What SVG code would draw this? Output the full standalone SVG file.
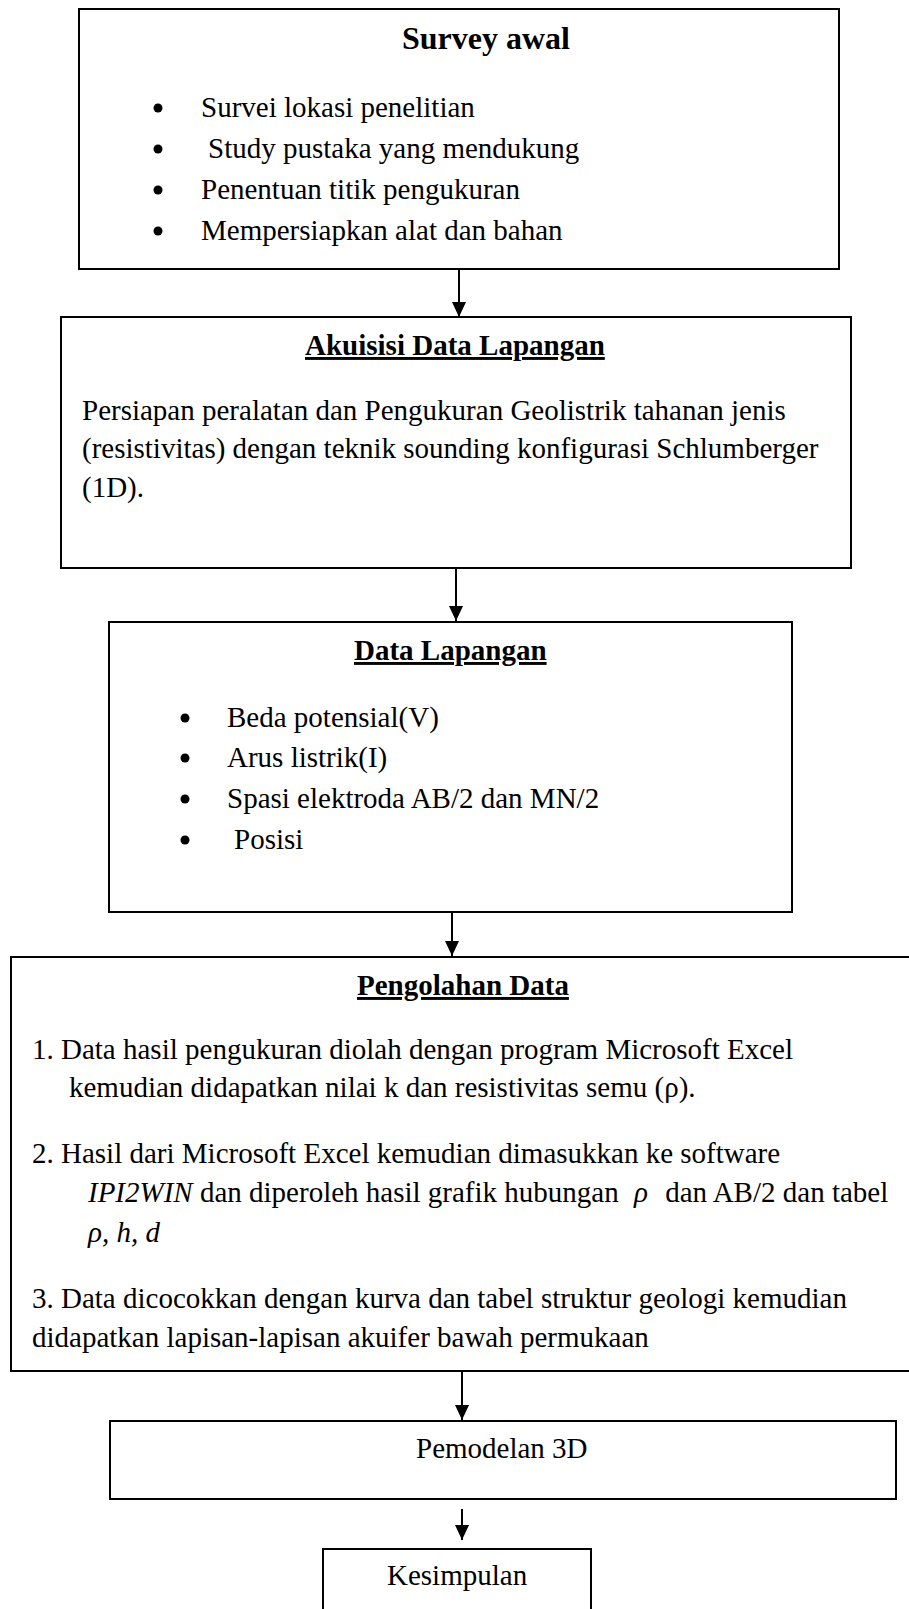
<svg xmlns="http://www.w3.org/2000/svg" width="909" height="1609" viewBox="0 0 909 1609">
<defs>
<marker id="ah" markerUnits="userSpaceOnUse" markerWidth="15" markerHeight="14" refX="15" refY="7" orient="auto">
<path d="M0,0 L15,7 L0,14 z" fill="#000"/>
</marker>
<style>
.box{fill:#fff;stroke:#000;stroke-width:2}
.t{font-family:"Liberation Serif","Times New Roman",serif;font-size:29px;fill:#000}
.b{font-weight:bold}
.big{font-size:32px}
.u{text-decoration:underline}
.i{font-style:italic}
.dot{fill:#000}
.conn{stroke:#000;stroke-width:2;fill:none;marker-end:url(#ah)}
</style>
</defs>
<rect x="0" y="0" width="909" height="1609" fill="#fff"/>

<g id="survey-awal">
<rect class="box" x="79" y="9" width="760" height="260"/>
<text class="t b big" x="402" y="49">Survey awal</text>
<circle class="dot" cx="158" cy="108" r="4.5"/>
<circle class="dot" cx="158" cy="149" r="4.5"/>
<circle class="dot" cx="158" cy="190" r="4.5"/>
<circle class="dot" cx="158" cy="231" r="4.5"/>
<text class="t" x="201" y="117">Survei lokasi penelitian</text>
<text class="t" x="208" y="158">Study pustaka yang mendukung</text>
<text class="t" x="201" y="199">Penentuan titik pengukuran</text>
<text class="t" x="201" y="240">Mempersiapkan alat dan bahan</text>
</g>

<g id="akuisisi">
<rect class="box" x="61" y="317" width="790" height="251"/>
<text class="t b u" x="305" y="355">Akuisisi Data Lapangan</text>
<text class="t" x="82" y="420">Persiapan peralatan dan Pengukuran Geolistrik tahanan jenis</text>
<text class="t" x="82" y="458">(resistivitas) dengan teknik sounding konfigurasi Schlumberger</text>
<text class="t" x="82" y="497">(1D).</text>
</g>

<g id="data-lapangan">
<rect class="box" x="109" y="622" width="683" height="290"/>
<text class="t b u" x="354" y="660">Data Lapangan</text>
<circle class="dot" cx="185" cy="718" r="4.5"/>
<circle class="dot" cx="185" cy="758" r="4.5"/>
<circle class="dot" cx="185" cy="799" r="4.5"/>
<circle class="dot" cx="185" cy="840" r="4.5"/>
<text class="t" x="227" y="727">Beda potensial(V)</text>
<text class="t" x="227" y="767">Arus listrik(I)</text>
<text class="t" x="227" y="808">Spasi elektroda AB/2 dan MN/2</text>
<text class="t" x="234" y="849">Posisi</text>
</g>

<g id="pengolahan">
<rect class="box" x="11" y="957" width="930" height="414"/>
<text class="t b u" x="357" y="995">Pengolahan Data</text>
<text class="t" x="32" y="1059">1. Data hasil pengukuran diolah dengan program Microsoft Excel</text>
<text class="t" x="69" y="1097">kemudian didapatkan nilai k dan resistivitas semu (ρ).</text>
<text class="t" x="32" y="1163">2. Hasil dari Microsoft Excel kemudian dimasukkan ke software</text>
<text class="t" x="88" y="1202"><tspan class="i">IPI2WIN</tspan> dan diperoleh hasil grafik hubungan <tspan class="i" dx="8">ρ</tspan><tspan dx="10"> dan AB/2 dan tabel</tspan></text>
<text class="t i" x="88" y="1242">ρ, h, d</text>
<text class="t" x="32" y="1308">3. Data dicocokkan dengan kurva dan tabel struktur geologi kemudian</text>
<text class="t" x="32" y="1347">didapatkan lapisan-lapisan akuifer bawah permukaan</text>
</g>

<g id="pemodelan">
<rect class="box" x="110" y="1421" width="786" height="78"/>
<text class="t" x="416" y="1458">Pemodelan 3D</text>
</g>

<g id="kesimpulan">
<rect class="box" x="323" y="1549" width="268" height="80"/>
<text class="t" x="387" y="1585">Kesimpulan</text>
</g>

<g id="connectors">
<line class="conn" x1="459" y1="269" x2="459" y2="317"/>
<line class="conn" x1="456" y1="568" x2="456" y2="621"/>
<line class="conn" x1="452" y1="912" x2="452" y2="956"/>
<line class="conn" x1="462" y1="1371" x2="462" y2="1420"/>
<line class="conn" x1="462" y1="1509" x2="462" y2="1540"/>
</g>
</svg>
